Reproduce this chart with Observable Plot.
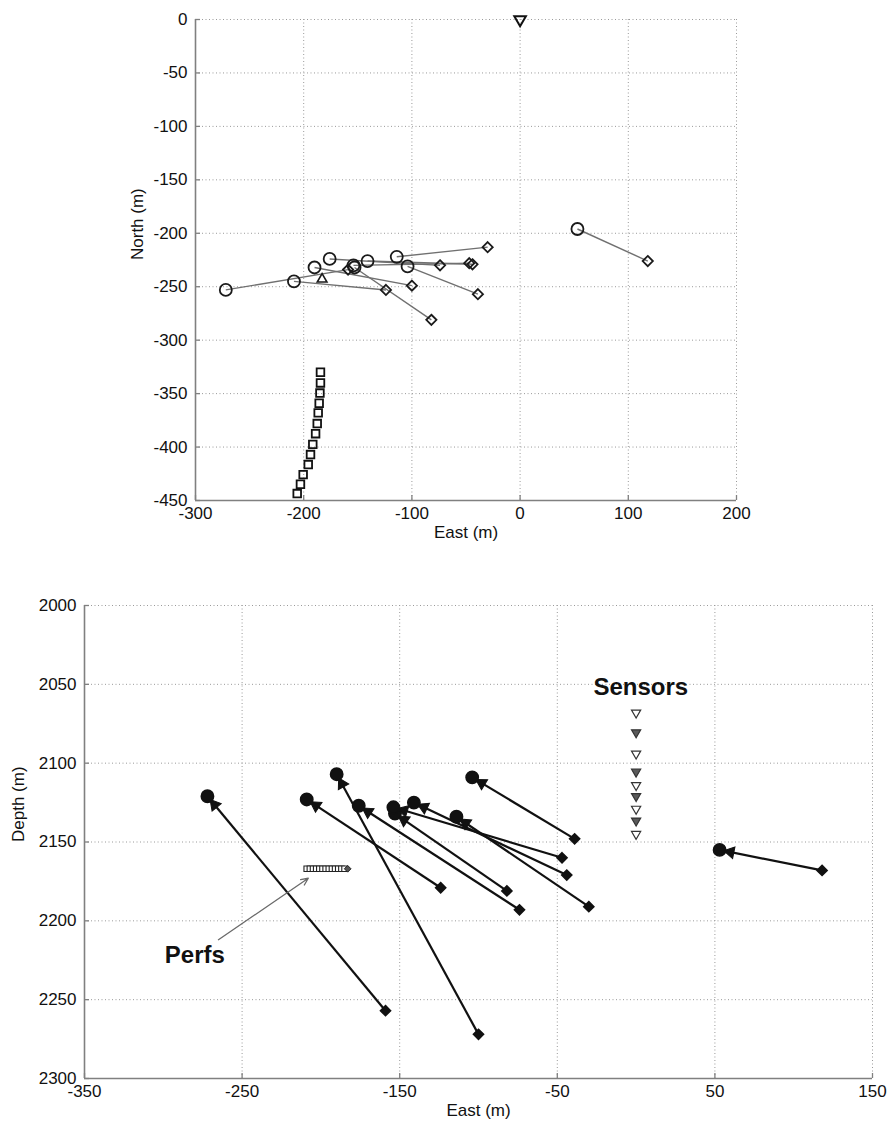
<!DOCTYPE html>
<html><head><meta charset="utf-8">
<script src="https://cdn.jsdelivr.net/npm/d3@7"></script>
<script src="https://cdn.jsdelivr.net/npm/@observablehq/plot@0.6"></script>
<style>
html,body{margin:0;padding:0;background:#fff;}
#wrap{position:relative;width:889px;height:1126px;overflow:hidden;background:#fff;}
#top{position:absolute;left:0;top:0;}
#bot{position:absolute;left:0;top:560px;}
</style></head><body>
<div id="wrap"><div id="top"></div><div id="bot"></div></div>
<script>
// ---- Data ----
// Event end points (circles) and start points (diamonds)
const circleEast  = [-272, -190, -209, -104, 53, -114, -176, -153, -154, -141];
const circleNorth = [-253, -232, -245, -231, -196, -222, -224, -232, -230, -226];
const circleDepth = [2121, 2107, 2123, 2109, 2155, 2134, 2127, 2132, 2128, 2125];
const diamondEast  = [-159, -100, -124, -39, 118, -30, -74, -82, -47, -44];
const diamondNorth = [-234, -249, -253, -257, -226, -213, -230, -281, -228, -229];
const diamondDepth = [2257, 2272, 2179, 2148, 2168, 2191, 2193, 2181, 2160, 2171];

// Perforations
const perfEast  = [-184.5, -184.5, -185, -185.7, -186.6, -187.5, -189, -191.6, -193.7, -195.8, -200.5, -203, -206];
const perfNorth = [-330, -340, -349.5, -359, -368, -378, -387.5, -397.5, -407, -416.4, -425.8, -434.8, -443.5];
const perfDepthEast = [-209, -207, -205, -203, -201, -199, -197, -195, -193, -191, -189, -187, -185];
const perfDepth = [2167, 2167, 2167, 2167, 2167, 2167, 2167, 2167, 2167, 2167, 2167, 2167, 2167];

// Extra triangle marker
const triEast = [-183];
const triNorth = [-243];
const triDepth = [2167];

// Sensors
const sensorTopEast = [0];
const sensorTopNorth = [0];
const sensorEast  = [0, 0, 0, 0, 0, 0, 0, 0, 0];
const sensorDepth = [2068, 2080.5, 2094, 2105.5, 2114, 2121, 2129, 2136.5, 2145];
const sensorFilled = [false, true, false, true, false, true, false, true, false];

// Axis ticks
const topXTicks = [-300, -200, -100, 0, 100, 200];
const topYTicks = [0, -50, -100, -150, -200, -250, -300, -350, -400, -450];
const botXTicks = [-350, -250, -150, -50, 50, 150];
const botYTicks = [2000, 2050, 2100, 2150, 2200, 2250, 2300];

// Annotations
const perfsLabel = {text: "Perfs", east: -280, depth: 2222};
const perfsArrow = {e1: -265, d1: 2212, e2: -208, d2: 2173};
const sensorsLabel = {text: "Sensors", east: 3, depth: 2052};

// ---- Build tables ----
const events = circleEast.map((_, i) => ({
  ce: circleEast[i], cn: circleNorth[i], cd: circleDepth[i],
  de: diamondEast[i], dn: diamondNorth[i], dd: diamondDepth[i]
}));
const perfsTop = perfEast.map((e, i) => ({e, n: perfNorth[i]}));
const perfsBot = perfDepthEast.map((e, i) => ({e, d: perfDepth[i]}));
const sensors = sensorEast.map((e, i) => ({e, d: sensorDepth[i], f: sensorFilled[i]}));

const FONT = "'Liberation Sans', Arial, Helvetica, sans-serif";
const GRID = {stroke: "#9a9a9a", strokeOpacity: 1, strokeWidth: 1, strokeDasharray: "1,2.5"};
const AXIS = "#808080";
const TICKFS = 17;
const LABELFS = 17;
const fmt = d => String(d);

function frameMarks({xTicks, yTicks, xMin, yMin, yMax, xMax, plotW, plotH, xLabel, yLabel, yLabelDx, reverseY}) {
  const tx = 5 * (yMax - yMin) / plotH * (reverseY ? -1 : 1);
  const ty = 5 * (xMax - xMin) / plotW;
  const yBase = reverseY ? yMax : yMin;
  return [
    Plot.gridX(xTicks, GRID),
    Plot.gridY(yTicks, GRID),
    Plot.ruleX(xTicks, {x: d => d, y1: yBase, y2: yBase + tx, stroke: AXIS, strokeWidth: 1.3}),
    Plot.ruleY(yTicks, {y: d => d, x1: xMin, x2: xMin + ty, stroke: AXIS, strokeWidth: 1.3}),
    Plot.ruleX([xMin], {stroke: AXIS, strokeWidth: 1.6}),
    Plot.ruleY([yBase], {stroke: AXIS, strokeWidth: 1.6}),
    Plot.axisX(xTicks, {tickSize: 0, tickPadding: 6, fontSize: TICKFS, label: null, fill: "#111", tickFormat: fmt}),
    Plot.axisY(yTicks, {tickSize: 0, tickPadding: 8, fontSize: TICKFS, label: null, fill: "#111", tickFormat: fmt}),
    Plot.text([xLabel], {frameAnchor: "bottom", dy: 32, fontSize: LABELFS, fill: "#111", lineAnchor: "middle"}),
    Plot.text([yLabel], {frameAnchor: "left", dx: yLabelDx, rotate: -90, fontSize: LABELFS, fill: "#111", lineAnchor: "middle"})
  ];
}

// ---- Top panel: plan view ----
const topW = 889, topH = 560, tML = 195, tMR = 153, tMT = 19, tMB = 60;
const topPlot = Plot.plot({
  width: topW, height: topH,
  marginLeft: tML, marginRight: tMR, marginTop: tMT, marginBottom: tMB,
  style: {fontFamily: FONT, background: "#fff", overflow: "visible"},
  x: {domain: [-300, 200]},
  y: {domain: [-450, 0]},
  marks: [
    ...frameMarks({xTicks: topXTicks, yTicks: topYTicks, xMin: -300, xMax: 200, yMin: -450, yMax: 0,
      plotW: topW - tML - tMR, plotH: topH - tMT - tMB, xLabel: "East (m)", yLabel: "North (m)", yLabelDx: -58, reverseY: false}),
    Plot.link(events, {x1: "ce", y1: "cn", x2: "de", y2: "dn", stroke: "#707070", strokeWidth: 1.4}),
    Plot.dot(events, {x: "ce", y: "cn", r: 6, stroke: "#1a1a1a", strokeWidth: 1.8, fill: "none"}),
    Plot.dot(events, {x: "de", y: "dn", symbol: "diamond2", r: 4.6, stroke: "#1a1a1a", strokeWidth: 1.8, fill: "none"}),
    Plot.dot(triEast.map((e, i) => ({e, n: triNorth[i]})), {x: "e", y: "n", symbol: "triangle", r: 3.6, stroke: "#1a1a1a", strokeWidth: 1.6, fill: "none"}),
    Plot.dot(perfsTop, {x: "e", y: "n", symbol: "square", r: 4.3, stroke: "#111", strokeWidth: 1.8, fill: "none"}),
    Plot.dot(sensorTopEast.map((e, i) => ({e, n: sensorTopNorth[i]})), {x: "e", y: "n", symbol: "triangle", rotate: 180, r: 4.3, stroke: "#111", strokeWidth: 2, fill: "none"})
  ]
});
document.getElementById("top").appendChild(topPlot);

// ---- Bottom panel: depth section ----
const botW = 889, botH = 566, bML = 84, bMR = 17, bMT = 45, bMB = 48;
const bPlotW = botW - bML - bMR, bPlotH = botH - bMT - bMB;
const kx = bPlotW / 500, ky = bPlotH / 300; // px per metre
// filled arrow heads placed along each arrow, just outside the end circle
const heads = events.map(ev => {
  const vx = (ev.ce - ev.de) * kx, vy = (ev.cd - ev.dd) * ky; // screen direction (y down = depth up)
  const len = Math.hypot(vx, vy);
  const ux = vx / len, uy = vy / len;
  const back = 11; // px back from the circle centre
  return {
    e: ev.ce - ux * back / kx,
    d: ev.cd - uy * back / ky,
    rot: Math.atan2(ux, -uy) * 180 / Math.PI
  };
});
const botPlot = Plot.plot({
  width: botW, height: botH,
  marginLeft: bML, marginRight: bMR, marginTop: bMT, marginBottom: bMB,
  style: {fontFamily: FONT, background: "#fff", overflow: "visible"},
  x: {domain: [-350, 150]},
  y: {domain: [2000, 2300], reverse: true},
  marks: [
    ...frameMarks({xTicks: botXTicks, yTicks: botYTicks, xMin: -350, xMax: 150, yMin: 2000, yMax: 2300,
      plotW: bPlotW, plotH: bPlotH, xLabel: "East (m)", yLabel: "Depth (m)", yLabelDx: -66, reverseY: true}),
    Plot.link(events, {x1: "de", y1: "dd", x2: "ce", y2: "cd", stroke: "#111", strokeWidth: 2.2}),
    Plot.dot(heads, {x: "e", y: "d", symbol: "triangle", rotate: "rot", r: 4.4, fill: "#111", stroke: "#111", strokeWidth: 1}),
    Plot.dot(events, {x: "ce", y: "cd", r: 6.2, fill: "#111", stroke: "#111"}),
    Plot.dot(events, {x: "de", y: "dd", symbol: "diamond2", r: 4.6, fill: "#111", stroke: "#111"}),
    Plot.dot(perfsBot, {x: "e", y: "d", symbol: "square", r: 3.1, stroke: "#222", strokeWidth: 1.1, fill: "#fff"}),
    Plot.dot(triEast.map((e, i) => ({e, d: triDepth[i]})), {x: "e", y: "d", symbol: "diamond2", r: 3, stroke: "#222", strokeWidth: 1, fill: "#555"}),
    Plot.dot(sensors, {x: "e", y: "d", symbol: "triangle", rotate: 180, r: 3.4, stroke: "#333", strokeWidth: 1.2, fill: d => d.f ? "#5a5a5a" : "#fff"}),
    Plot.arrow([perfsArrow], {x1: "e1", y1: "d1", x2: "e2", y2: "d2", stroke: "#6a6a6a", strokeWidth: 1.3, headLength: 9, headAngle: 50}),
    Plot.text([perfsLabel], {x: "east", y: "depth", text: "text", fontSize: 24, fontWeight: "bold", fill: "#111"}),
    Plot.text([sensorsLabel], {x: "east", y: "depth", text: "text", fontSize: 24, fontWeight: "bold", fill: "#111"})
  ]
});
document.getElementById("bot").appendChild(botPlot);
</script>
</body></html>
